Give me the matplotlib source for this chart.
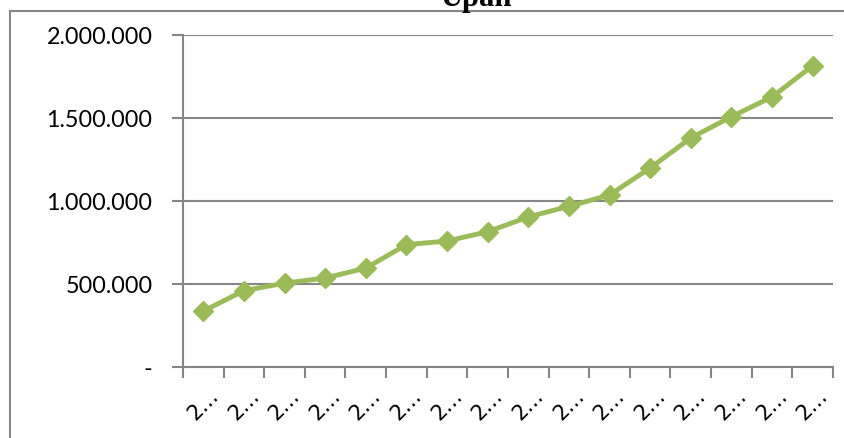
import matplotlib
matplotlib.use("Agg")
import matplotlib.pyplot as plt
from matplotlib.patches import Rectangle
from matplotlib.ticker import FixedLocator

# Data
categories = ["2…"] * 16
upah = [337000, 460000, 505000, 536000, 596000, 737000, 759000, 815000,
        904000, 968000, 1036000, 1199000, 1380000, 1508000, 1627000, 1815000]
y_ticks = [0, 500000, 1000000, 1500000, 2000000]
y_tick_labels = ["-", "500.000", "1.000.000", "1.500.000", "2.000.000"]
title = "Upah"

W, H = 845, 439
fig = plt.figure(figsize=(W / 100, H / 100), dpi=100)
fig.patch.set_facecolor("white")

grey = "#868686"
green = "#9BBB59"

# outer chart frame
fig.patches.append(Rectangle((10 / W, -0.1), 2.0, (H - 12) / H + 0.1,
                             transform=fig.transFigure, fill=False,
                             edgecolor=grey, linewidth=1.5, zorder=0))

ax = fig.add_axes([183 / W, (H - 368) / H, 650 / W, 332 / H])
n = len(upah)
x = [i + 0.5 for i in range(n)]
ax.plot(x, upah, color=green, linewidth=3.5, marker="D", markersize=10,
        markerfacecolor=green, markeredgecolor=green, zorder=3,
        solid_joinstyle="round")

ax.set_xlim(0, n)
ax.set_ylim(0, 2000000)

for s in ["top", "right"]:
    ax.spines[s].set_visible(False)
for s in ["left", "bottom"]:
    ax.spines[s].set_color(grey)
    ax.spines[s].set_linewidth(1.5)

ax.yaxis.set_major_locator(FixedLocator(y_ticks))
ax.set_yticklabels(y_tick_labels, fontfamily="Lato", fontsize=16.8)
ax.grid(axis="y", color=grey, linewidth=1.5)
ax.set_axisbelow(True)

ax.xaxis.set_major_locator(FixedLocator(list(range(n + 1))))
ax.set_xticklabels([""] * (n + 1))
ax.xaxis.set_minor_locator(FixedLocator(x))
ax.set_xticklabels(categories, minor=True, rotation=45, ha="center",
                   va="top", fontfamily="DejaVu Sans", fontsize=15)
ax.tick_params(axis="x", which="minor", length=0, pad=13)
ax.tick_params(axis="x", which="major", length=8, width=1.5, color=grey,
               direction="out")
ax.tick_params(axis="y", length=8, width=1.5, color=grey, pad=14)

fig.text(476 / W, 1 - 6 / H, title, ha="center", va="baseline",
         fontfamily="Liberation Serif", fontweight="bold", fontsize=22)

fig.savefig("out.png", dpi=100)
